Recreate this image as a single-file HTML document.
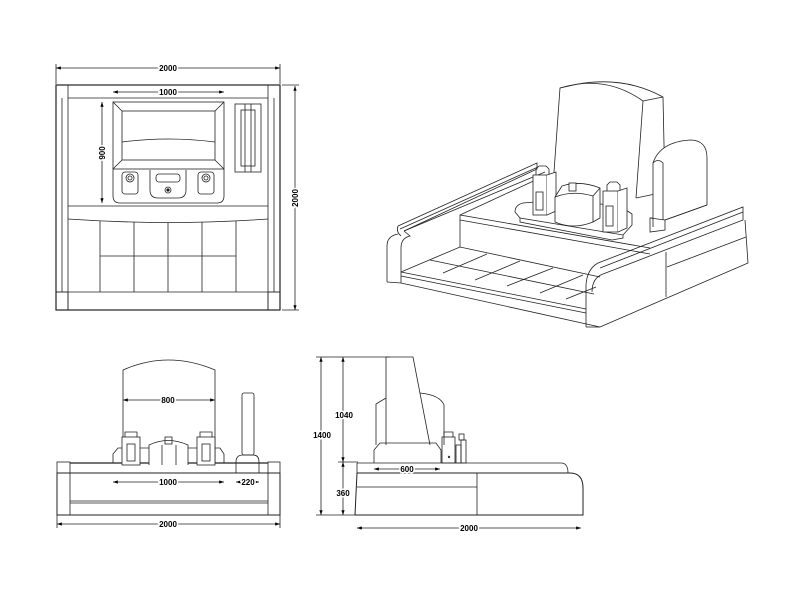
<!DOCTYPE html>
<html><head><style>html,body{margin:0;padding:0;background:#fff}svg{display:block}text{font-family:"Liberation Sans",sans-serif;font-size:8px;font-weight:bold;fill:#000}</style></head>
<body>
<svg width="800" height="600" viewBox="0 0 800 600" xmlns="http://www.w3.org/2000/svg">
<defs><marker id="a" markerWidth="6" markerHeight="6" refX="6" refY="3" orient="auto-start-reverse"><path d="M0,1 L6,3 L0,5z" fill="#000"/></marker></defs>
<g fill="none" stroke="#222" stroke-width="0.8">
<!-- ===== PLAN VIEW ===== -->
<line x1="56" y1="68" x2="280" y2="68" marker-start="url(#a)" marker-end="url(#a)"/>
<line x1="56" y1="64" x2="56" y2="84"/><line x1="280" y1="64" x2="280" y2="84"/>
<line x1="295" y1="86" x2="295" y2="310" marker-start="url(#a)" marker-end="url(#a)"/>
<line x1="282" y1="85" x2="299" y2="85"/><line x1="282" y1="310" x2="299" y2="310"/>
<rect x="56" y="85" width="224" height="225" stroke-width="1.2"/>
<line x1="68" y1="85" x2="68" y2="310"/><line x1="268" y1="85" x2="268" y2="310"/>
<line x1="62" y1="98" x2="62" y2="292"/><line x1="274" y1="98" x2="274" y2="292"/>
<line x1="68" y1="98" x2="268" y2="98"/>
<line x1="56" y1="292" x2="280" y2="292"/>
<rect x="56" y="292" width="12" height="18"/><rect x="268" y="292" width="12" height="18"/>
<line x1="68" y1="206" x2="268" y2="206"/>
<path d="M68,219 Q168,226 268,219"/>
<line x1="100" y1="221" x2="100" y2="292"/><line x1="134" y1="222" x2="134" y2="292"/><line x1="168" y1="223" x2="168" y2="292"/><line x1="202" y1="222" x2="202" y2="292"/><line x1="236" y1="221" x2="236" y2="292"/>
<line x1="100" y1="256" x2="236" y2="256"/>
<rect x="113" y="102" width="111" height="67"/>
<rect x="122" y="111" width="93" height="49"/>
<line x1="113" y1="102" x2="122" y2="111"/><line x1="224" y1="102" x2="215" y2="111"/><line x1="113" y1="169" x2="122" y2="160"/><line x1="224" y1="169" x2="215" y2="160"/>
<path d="M122,142 Q168,136 215,142"/>
<path d="M113,169 V196 Q113,203 120,203 H217 Q224,203 224,196 V169"/>
<rect x="122" y="172" width="16" height="22" rx="3"/><circle cx="130" cy="178" r="4"/><circle cx="130" cy="178" r="2"/>
<rect x="198" y="172" width="16" height="22" rx="3"/><circle cx="206" cy="178" r="4"/><circle cx="206" cy="178" r="2"/>
<path d="M150,170 V190 Q150,198 158,198 H178 Q186,198 186,190 V170"/>
<rect x="156" y="174" width="24" height="8" rx="3"/><circle cx="168" cy="190" r="3"/><circle cx="168" cy="190" r="1.2" fill="#000"/>
<line x1="102" y1="102" x2="102" y2="203" marker-start="url(#a)" marker-end="url(#a)"/>
<line x1="113" y1="92" x2="224" y2="92" marker-start="url(#a)" marker-end="url(#a)"/>
<rect x="235" y="104" width="26" height="68"/><rect x="241" y="110" width="14" height="56"/><line x1="245" y1="104" x2="245" y2="172"/><line x1="251" y1="104" x2="251" y2="172"/>
<!-- ===== FRONT VIEW ===== -->
<line x1="57" y1="524" x2="280" y2="524" marker-start="url(#a)" marker-end="url(#a)"/>
<line x1="57" y1="515" x2="57" y2="528"/><line x1="280" y1="515" x2="280" y2="528"/>
<rect x="57" y="473" width="223" height="42" stroke-width="1"/>
<line x1="70" y1="473" x2="70" y2="515"/><line x1="268" y1="473" x2="268" y2="515"/>
<line x1="70" y1="501" x2="268" y2="501"/><line x1="70" y1="503" x2="268" y2="503"/>
<rect x="57" y="462" width="13" height="11"/><rect x="268" y="462" width="12" height="11"/>
<line x1="70" y1="463" x2="268" y2="463" stroke-width="1.2"/>
<path d="M123,463 V370 Q168,350 215,370 V463"/>
<line x1="123" y1="400" x2="215" y2="400" marker-start="url(#a)" marker-end="url(#a)"/>
<path d="M113,463 V454 L118,448 H220 L224,454 V463"/>
<rect x="122" y="437" width="18" height="28" fill="#fff"/><rect x="127" y="444" width="8" height="17"/><path d="M125,437 V432 H137 V437"/>
<rect x="197" y="437" width="18" height="28" fill="#fff"/><rect x="202" y="444" width="8" height="17"/><path d="M200,437 V432 H212 V437"/>
<path d="M149,465 V445 Q168,436 188,445 V465" fill="#fff"/><rect x="165" y="437" width="7" height="7"/><line x1="162" y1="445" x2="162" y2="465"/><line x1="176" y1="445" x2="176" y2="465"/>
<rect x="242" y="393" width="12" height="62" rx="2"/>
<path d="M236,473 V462 Q236,455 243,455 H253 Q259,455 259,462 V473"/>
<line x1="113" y1="482" x2="224" y2="482" marker-start="url(#a)" marker-end="url(#a)"/>
<line x1="236" y1="482" x2="259" y2="482" marker-start="url(#a)" marker-end="url(#a)"/>
<!-- ===== SIDE VIEW ===== -->
<line x1="321" y1="357" x2="321" y2="515" marker-start="url(#a)" marker-end="url(#a)"/>
<line x1="343" y1="357" x2="343" y2="462" marker-start="url(#a)" marker-end="url(#a)"/>
<line x1="343" y1="462" x2="343" y2="515" marker-start="url(#a)" marker-end="url(#a)"/>
<line x1="316" y1="357" x2="390" y2="357"/><line x1="338" y1="462" x2="358" y2="462"/><line x1="316" y1="515" x2="358" y2="515"/>
<line x1="357" y1="528" x2="581" y2="528" marker-start="url(#a)" marker-end="url(#a)"/>
<path d="M357,463 H561 Q568,463 568,473" />
<line x1="357" y1="463" x2="357" y2="473"/>
<path d="M357,473 H570 Q583,473 583,488 V515 H355 L357,473" stroke-width="1"/>
<line x1="477" y1="473" x2="477" y2="515"/>
<line x1="357" y1="487" x2="477" y2="487"/>
<path d="M376,445 V404 L386,398"/>
<path d="M420,393 Q440,395 444,405 V445"/>
<path d="M386,445 V357 H413 L430,445"/>
<path d="M374,463 V450 L380,443 H436 L441,450 V463"/>
<line x1="374" y1="469" x2="440" y2="469" marker-start="url(#a)" marker-end="url(#a)"/>
<rect x="442" y="437" width="13" height="26"/><path d="M444,437 V432 H453 V437"/><circle cx="449" cy="457" r="0.8"/>
<rect x="456" y="445" width="5" height="18"/><rect x="461" y="440" width="5" height="23"/><rect x="459" y="434" width="5" height="6"/>
<!-- ===== ISOMETRIC ===== -->
<path d="M552,200 L560,88 Q605,74 643,101 L636,198"/>
<path d="M560,88 L578,84 Q625,76 663,97 L665,192"/>
<path d="M643,101 L663,97"/>
<path d="M636,198 L665,192"/>
<path d="M460,247 V215 L650,248"/>
<path d="M460,220 L650,254"/>
<path d="M460,215 L540,178"/>
<path d="M398,226 L537,163 V169 L404,231"/>
<path d="M400,229 L538,167"/>
<path d="M404,231 L545,172"/>
<path d="M398,226 Q396,232 401,236"/>
<path d="M387,282 V246 Q387,236 398,234"/>
<path d="M401,283 V248 Q401,238 410,236 L404,231"/>
<path d="M387,282 L401,283"/>
<path d="M401,272 L586,309"/>
<path d="M401,276 L586,313"/>
<path d="M401,283 L600,327"/>
<path d="M401,272 L460,247 L600,277"/>
<path d="M430,260 L594,294"/>
<path d="M443,273 L487,254"/><path d="M475,280 L520,261"/><path d="M507,286 L553,268"/><path d="M540,293 L583,275"/><path d="M566,299 L596,287"/>
<path d="M586,327 V285 Q587,269 598,263 L743,207 V220 L603,274 Q592,278 592,292"/>
<path d="M600,268 L743,212"/>
<path d="M600,327 L748,263 L745,220"/>
<path d="M586,327 L600,327"/>
<line x1="666" y1="252" x2="666" y2="297"/>
<path d="M667,267 L746,237"/>
<!-- small stone (occludes main stone) -->
<path d="M653,227 V163 Q660,142 690,140 Q707,140 707,158 V205 L665,220 V230 L650,232 V218 L653,218 Z" fill="#fff"/>
<path d="M653,163 Q658,158 663,163 V220"/>
<path d="M650,218 L665,220"/>
<path d="M665,220 L707,205"/>
<!-- pedestal & lanterns -->
<path d="M515,212 Q515,205 523,203 L560,200 L620,206 L632,214 V225 L623,235 L520,218 Z" fill="#fff"/>
<path d="M520,218 V222 L612,240 L623,238 V235"/>
<rect x="533" y="175" width="14" height="40" fill="#fff"/><path d="M547,175 L556,172 V211 L547,215" fill="#fff"/><rect x="536" y="192" width="7" height="18"/>
<path d="M536,175 V169 L539,166 H546 L549,169 V174"/>
<rect x="603" y="191" width="15" height="41" fill="#fff"/><path d="M618,191 L627,188 V228 L618,232" fill="#fff"/><rect x="606" y="206" width="7" height="20"/>
<path d="M607,191 V185 L610,182 H617 L620,185 V190"/>
<path d="M555,197 L562,186 Q580,180 600,188 V218 L593,222" fill="#fff"/>
<path d="M555,197 Q573,190 593,196 V222 Q573,230 555,222 Z" fill="#fff"/>
<path d="M593,196 L600,188"/><rect x="569" y="183" width="7" height="8" fill="#fff"/>
</g>
<text x="168" y="71" text-anchor="middle" stroke="#fff" stroke-width="3" paint-order="stroke">2000</text>
<text x="168" y="95" text-anchor="middle" stroke="#fff" stroke-width="3" paint-order="stroke">1000</text>
<text transform="translate(105,153) rotate(-90)" text-anchor="middle" stroke="#fff" stroke-width="3" paint-order="stroke">900</text>
<text transform="translate(298,198) rotate(-90)" text-anchor="middle" stroke="#fff" stroke-width="3" paint-order="stroke">2000</text>
<text x="168" y="403" text-anchor="middle" stroke="#fff" stroke-width="3" paint-order="stroke">800</text>
<text x="168" y="485" text-anchor="middle" stroke="#fff" stroke-width="3" paint-order="stroke">1000</text>
<text x="248" y="485" text-anchor="middle" stroke="#fff" stroke-width="3" paint-order="stroke">220</text>
<text x="168" y="527" text-anchor="middle" stroke="#fff" stroke-width="3" paint-order="stroke">2000</text>
<text x="322" y="438" text-anchor="middle" stroke="#fff" stroke-width="3" paint-order="stroke">1400</text>
<text x="344" y="418" text-anchor="middle" stroke="#fff" stroke-width="3" paint-order="stroke">1040</text>
<text x="343" y="496" text-anchor="middle" stroke="#fff" stroke-width="3" paint-order="stroke">360</text>
<text x="407" y="472" text-anchor="middle" stroke="#fff" stroke-width="3" paint-order="stroke">600</text>
<text x="469" y="531" text-anchor="middle" stroke="#fff" stroke-width="3" paint-order="stroke">2000</text>
</svg>
</body></html>
